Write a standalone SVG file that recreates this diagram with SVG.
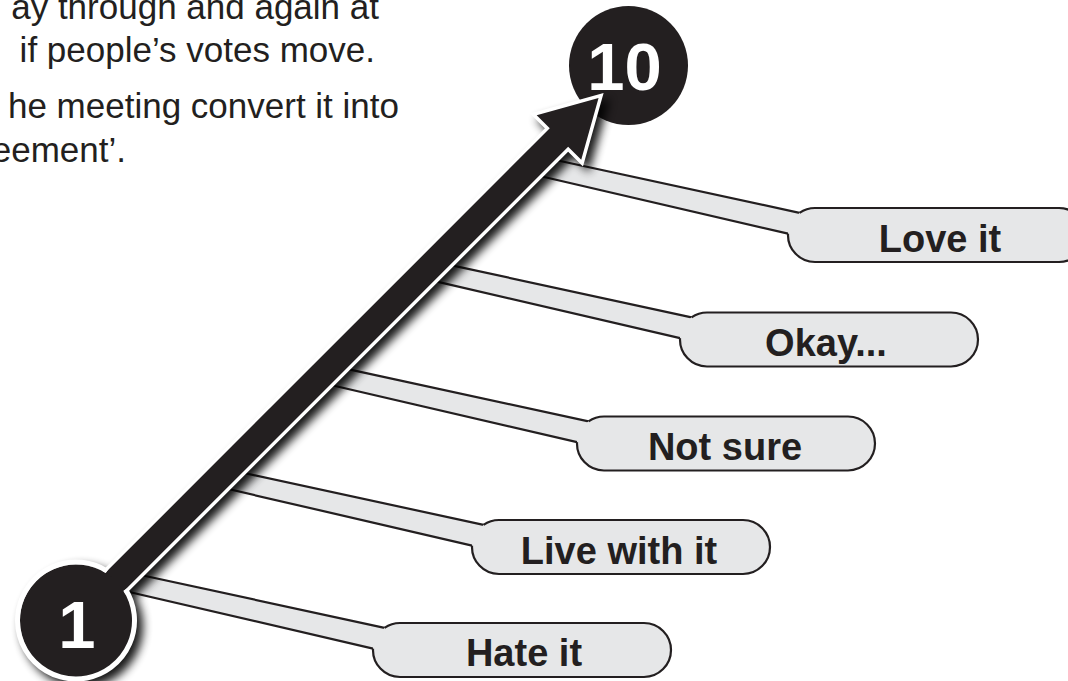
<svg xmlns="http://www.w3.org/2000/svg" width="1068" height="681" viewBox="0 0 1068 681">
<defs>
<style>
.para{font-family:"Liberation Sans",Arial,sans-serif;font-size:35px;fill:#231f20;text-anchor:end}
.lbl{font-family:"Liberation Sans",Arial,sans-serif;font-size:38px;font-weight:bold;fill:#231f20;text-anchor:middle}
.num{font-family:"Liberation Sans",Arial,sans-serif;font-size:67px;font-weight:bold;fill:#fff;text-anchor:middle}
.pillfill{fill:#e6e7e8}
.strip{fill:#e6e7e8}
.edge{fill:none;stroke:#231f20;stroke-width:2.2}
</style>
<filter id="blur" x="-10%" y="-10%" width="120%" height="120%"><feGaussianBlur stdDeviation="5"/></filter>
</defs>
<rect width="1068" height="681" fill="#fff"/>
<g id="paragraph">
<text class="para" x="379" y="18.5">ay through and again at</text>
<text class="para" x="375" y="62">if people’s votes move.</text>
<text class="para" x="399" y="118">he meeting convert it into</text>
<text class="para" x="126" y="162">eement’.</text>
</g>
<g id="node-10"><circle cx="628.5" cy="65.5" r="59.5" fill="#231f20"/><text class="num" x="624.5" y="90">10</text></g>
<g id="connectors">
<polygon class="strip" points="539.53,156.47 799.51,212.88 788.04,233.59 523.73,172.27"/>
<path class="edge" d="M539.53,156.47 L799.51,212.88 M523.73,172.27 L788.04,233.59"/>
<polygon class="strip" points="434.41,261.59 691.51,317.38 680.04,338.09 418.57,277.43"/>
<path class="edge" d="M434.41,261.59 L691.51,317.38 M418.57,277.43 L680.04,338.09"/>
<polygon class="strip" points="330.59,365.41 588.51,421.38 577.04,442.09 314.76,381.24"/>
<path class="edge" d="M330.59,365.41 L588.51,421.38 M314.76,381.24 L577.04,442.09"/>
<polygon class="strip" points="226.82,469.18 483.51,524.88 472.04,545.59 210.97,485.03"/>
<path class="edge" d="M226.82,469.18 L483.51,524.88 M210.97,485.03 L472.04,545.59"/>
<polygon class="strip" points="124.54,571.46 384.51,627.88 373.04,648.59 108.73,587.27"/>
<path class="edge" d="M124.54,571.46 L384.51,627.88 M108.73,587.27 L373.04,648.59"/>
<g id="shadow" filter="url(#blur)" opacity="0.9">
<g transform="translate(82,626.5) rotate(-45)"><path d="M0,-13 L683,-13 L683,-31.5 L739,0 L683,31.5 L683,13 L0,13 Z" fill="#000" stroke="#000" stroke-width="7"/></g>
<circle cx="82" cy="626.5" r="61" fill="#000"/>
</g>
<g id="arrow" transform="translate(76,620.5) rotate(-45)"><path d="M0,-13 L683,-13 L683,-31.5 L739,0 L683,31.5 L683,13 L0,13 Z" fill="#231f20" stroke="#fff" stroke-width="7" stroke-linejoin="miter" paint-order="stroke"/></g>
</g>
<g id="node-love"><rect class="pillfill" x="788" y="208" width="298" height="54" rx="27"/><path class="edge" d="M799.51,212.88 A27,27 0 0 1 815,208 H1059 A27,27 0 0 1 1059,262 H815 A27,27 0 0 1 788.04,233.59"/><text class="lbl" x="940" y="251.5">Love it</text></g>
<g id="node-okay"><rect class="pillfill" x="680" y="312.5" width="298" height="54" rx="27"/><path class="edge" d="M691.51,317.38 A27,27 0 0 1 707,312.5 H951 A27,27 0 0 1 951,366.5 H707 A27,27 0 0 1 680.04,338.09"/><text class="lbl" x="826" y="356">Okay...</text></g>
<g id="node-notsure"><rect class="pillfill" x="577" y="416.5" width="298" height="54" rx="27"/><path class="edge" d="M588.51,421.38 A27,27 0 0 1 604,416.5 H848 A27,27 0 0 1 848,470.5 H604 A27,27 0 0 1 577.04,442.09"/><text class="lbl" x="725" y="460">Not sure</text></g>
<g id="node-live"><rect class="pillfill" x="472" y="520" width="298" height="54" rx="27"/><path class="edge" d="M483.51,524.88 A27,27 0 0 1 499,520 H743 A27,27 0 0 1 743,574 H499 A27,27 0 0 1 472.04,545.59"/><text class="lbl" x="619" y="563.5">Live with it</text></g>
<g id="node-hate"><rect class="pillfill" x="373" y="623" width="298" height="54" rx="27"/><path class="edge" d="M384.51,627.88 A27,27 0 0 1 400,623 H644 A27,27 0 0 1 644,677 H400 A27,27 0 0 1 373.04,648.59"/><text class="lbl" x="524" y="666">Hate it</text></g>
<g id="node-1"><circle cx="76" cy="620.5" r="56" fill="#231f20"/><path d="M125.50,589.33 A58.5,58.5 0 1 1 107.17,571.0" fill="none" stroke="#fff" stroke-width="5"/><text class="num" x="77" y="648">1</text></g>
</svg>
